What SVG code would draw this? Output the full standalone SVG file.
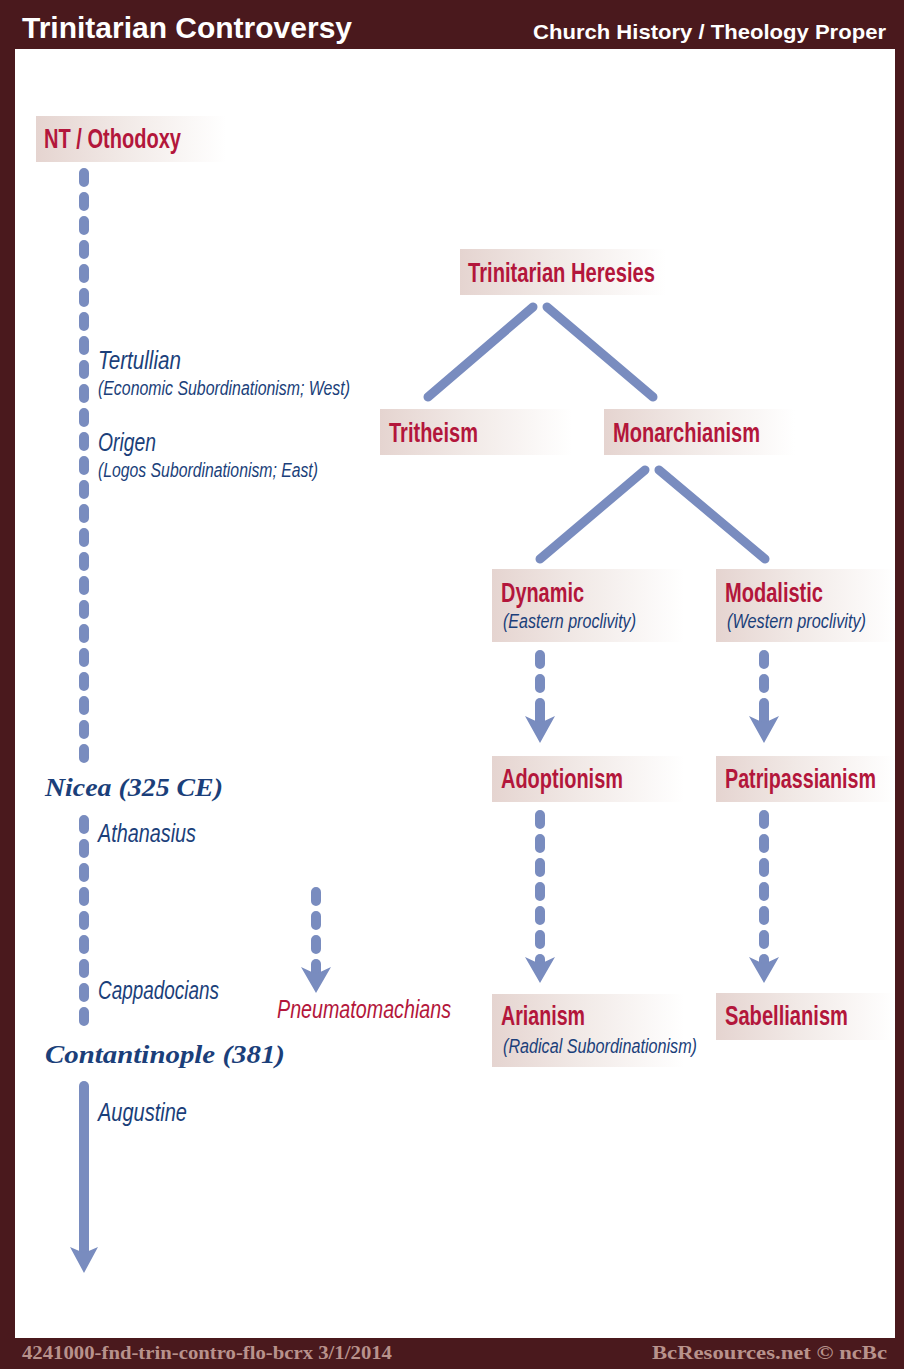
<svg xmlns="http://www.w3.org/2000/svg" width="904" height="1369" viewBox="0 0 904 1369">
<defs>
<linearGradient id="boxg" x1="0" y1="0" x2="1" y2="0">
<stop offset="0" stop-color="#e5d4d0"/>
<stop offset="0.45" stop-color="#f1e9e6"/>
<stop offset="1" stop-color="#ffffff"/>
</linearGradient>
<style>
.frame{fill:#4a191d}
.box{fill:url(#boxg)}
.nl{font-family:"Liberation Sans Narrow","Liberation Sans",sans-serif;font-weight:bold;font-size:27px;fill:#b3163b}
.sub{font-family:"Liberation Sans Narrow","Liberation Sans",sans-serif;font-style:italic;font-size:20px;fill:#1b3f7a}
.lab{font-family:"Liberation Sans Narrow","Liberation Sans",sans-serif;font-style:italic;font-size:25px;fill:#1b3f7a}
.red{fill:#b3163b}
.era{font-family:"Liberation Serif",serif;font-weight:bold;font-style:italic;font-size:25px;fill:#1b3f7a}
.ttl{font-family:"Liberation Sans",sans-serif;font-weight:bold;fill:#ffffff}
.foot{font-family:"Liberation Serif",serif;font-weight:bold;font-size:18px;fill:#b8928c}
.dash{stroke:#798cbf;stroke-width:10;stroke-linecap:round;stroke-dasharray:9 15;fill:none}
.solid{stroke:#798cbf;stroke-width:10;stroke-linecap:round;fill:none}
.tree{stroke:#798cbf;stroke-width:9;stroke-linecap:round;fill:none}
.head{fill:#798cbf}
</style>
</defs>
<rect class="frame" x="0" y="0" width="904" height="1369"/>
<rect x="15" y="49" width="880" height="1289" fill="#ffffff"/>
<g id="header">
<text class="ttl" x="22" y="38" font-size="29" textLength="330" lengthAdjust="spacingAndGlyphs">Trinitarian Controversy</text>
<text class="ttl" x="533" y="39" font-size="21" textLength="353" lengthAdjust="spacingAndGlyphs">Church History / Theology Proper</text>
</g>
<g id="footer">
<text class="foot" x="22" y="1359" textLength="370" lengthAdjust="spacingAndGlyphs">4241000-fnd-trin-contro-flo-bcrx 3/1/2014</text>
<text class="foot" x="652" y="1359" textLength="235" lengthAdjust="spacingAndGlyphs">BcResources.net © ncBc</text>
</g>
<g id="connectors">
<line class="dash" x1="84" y1="173" x2="84" y2="758"/>
<line class="dash" x1="84" y1="820" x2="84" y2="1021"/>
<line class="solid" x1="84" y1="1086" x2="84" y2="1255"/>
<path class="head" d="M70,1247 L84,1253 L98,1247 L84,1273 Z"/>
<line class="dash" x1="316" y1="892" x2="316" y2="949"/>
<line class="solid" x1="316" y1="964" x2="316" y2="975"/>
<path class="head" d="M301,967 L316,974 L331,967 L316,993 Z"/>
<line class="tree" x1="533" y1="307" x2="428" y2="397"/>
<line class="tree" x1="547" y1="307" x2="653" y2="397"/>
<line class="tree" x1="645" y1="470" x2="540" y2="559"/>
<line class="tree" x1="659" y1="470" x2="765" y2="559"/>
<line class="dash" x1="540" y1="655" x2="540" y2="688"/>
<line class="solid" x1="540" y1="703" x2="540" y2="723"/>
<path class="head" d="M525,716 L540,723 L555,716 L540,743 Z"/>
<line class="dash" x1="764" y1="655" x2="764" y2="688"/>
<line class="solid" x1="764" y1="703" x2="764" y2="723"/>
<path class="head" d="M749,716 L764,723 L779,716 L764,743 Z"/>
<line class="dash" x1="540" y1="815" x2="540" y2="944"/>
<line class="solid" x1="540" y1="959" x2="540" y2="964"/>
<path class="head" d="M525,957 L540,964 L555,957 L540,983 Z"/>
<line class="dash" x1="764" y1="815" x2="764" y2="944"/>
<line class="solid" x1="764" y1="959" x2="764" y2="964"/>
<path class="head" d="M749,957 L764,964 L779,957 L764,983 Z"/>
</g>
<g id="nt-orthodoxy">
<rect class="box" x="36" y="116" width="190" height="46"/>
<text class="nl" x="44" y="148" textLength="137" lengthAdjust="spacingAndGlyphs">NT / Othodoxy</text>
</g>
<g id="tertullian">
<text class="lab" x="98" y="369" textLength="83" lengthAdjust="spacingAndGlyphs">Tertullian</text>
<text class="sub" x="98" y="395" textLength="252" lengthAdjust="spacingAndGlyphs">(Economic Subordinationism; West)</text>
</g>
<g id="origen">
<text class="lab" x="98" y="451" textLength="58" lengthAdjust="spacingAndGlyphs">Origen</text>
<text class="sub" x="98" y="477" textLength="220" lengthAdjust="spacingAndGlyphs">(Logos Subordinationism; East)</text>
</g>
<g id="nicea">
<text class="era" x="45" y="796" textLength="178" lengthAdjust="spacingAndGlyphs">Nicea (325 CE)</text>
</g>
<g id="athanasius">
<text class="lab" x="98" y="842" textLength="98" lengthAdjust="spacingAndGlyphs">Athanasius</text>
</g>
<g id="cappadocians">
<text class="lab" x="98" y="999" textLength="121" lengthAdjust="spacingAndGlyphs">Cappadocians</text>
</g>
<g id="pneumatomachians">
<text class="lab red" x="277" y="1018" textLength="174" lengthAdjust="spacingAndGlyphs">Pneumatomachians</text>
</g>
<g id="constantinople">
<text class="era" x="45" y="1063" textLength="240" lengthAdjust="spacingAndGlyphs">Contantinople (381)</text>
</g>
<g id="augustine">
<text class="lab" x="98" y="1121" textLength="89" lengthAdjust="spacingAndGlyphs">Augustine</text>
</g>
<g id="trinitarian-heresies">
<rect class="box" x="460" y="249" width="206" height="46"/>
<text class="nl" x="468" y="282" textLength="187" lengthAdjust="spacingAndGlyphs">Trinitarian Heresies</text>
</g>
<g id="tritheism">
<rect class="box" x="380" y="409" width="192" height="46"/>
<text class="nl" x="389" y="442" textLength="89" lengthAdjust="spacingAndGlyphs">Tritheism</text>
</g>
<g id="monarchianism">
<rect class="box" x="604" y="409" width="191" height="46"/>
<text class="nl" x="613" y="442" textLength="147" lengthAdjust="spacingAndGlyphs">Monarchianism</text>
</g>
<g id="dynamic">
<rect class="box" x="492" y="569" width="192" height="73"/>
<text class="nl" x="501" y="602" textLength="83" lengthAdjust="spacingAndGlyphs">Dynamic</text>
<text class="sub" x="503" y="628" textLength="133" lengthAdjust="spacingAndGlyphs">(Eastern proclivity)</text>
</g>
<g id="modalistic">
<rect class="box" x="716" y="569" width="179" height="73"/>
<text class="nl" x="725" y="602" textLength="98" lengthAdjust="spacingAndGlyphs">Modalistic</text>
<text class="sub" x="727" y="628" textLength="139" lengthAdjust="spacingAndGlyphs">(Western proclivity)</text>
</g>
<g id="adoptionism">
<rect class="box" x="492" y="756" width="192" height="46"/>
<text class="nl" x="501" y="788" textLength="122" lengthAdjust="spacingAndGlyphs">Adoptionism</text>
</g>
<g id="patripassianism">
<rect class="box" x="716" y="756" width="179" height="46"/>
<text class="nl" x="725" y="788" textLength="151" lengthAdjust="spacingAndGlyphs">Patripassianism</text>
</g>
<g id="arianism">
<rect class="box" x="492" y="994" width="192" height="73"/>
<text class="nl" x="501" y="1025" textLength="84" lengthAdjust="spacingAndGlyphs">Arianism</text>
<text class="sub" x="503" y="1053" textLength="194" lengthAdjust="spacingAndGlyphs">(Radical Subordinationism)</text>
</g>
<g id="sabellianism">
<rect class="box" x="716" y="993" width="179" height="47"/>
<text class="nl" x="725" y="1025" textLength="123" lengthAdjust="spacingAndGlyphs">Sabellianism</text>
</g>
</svg>
